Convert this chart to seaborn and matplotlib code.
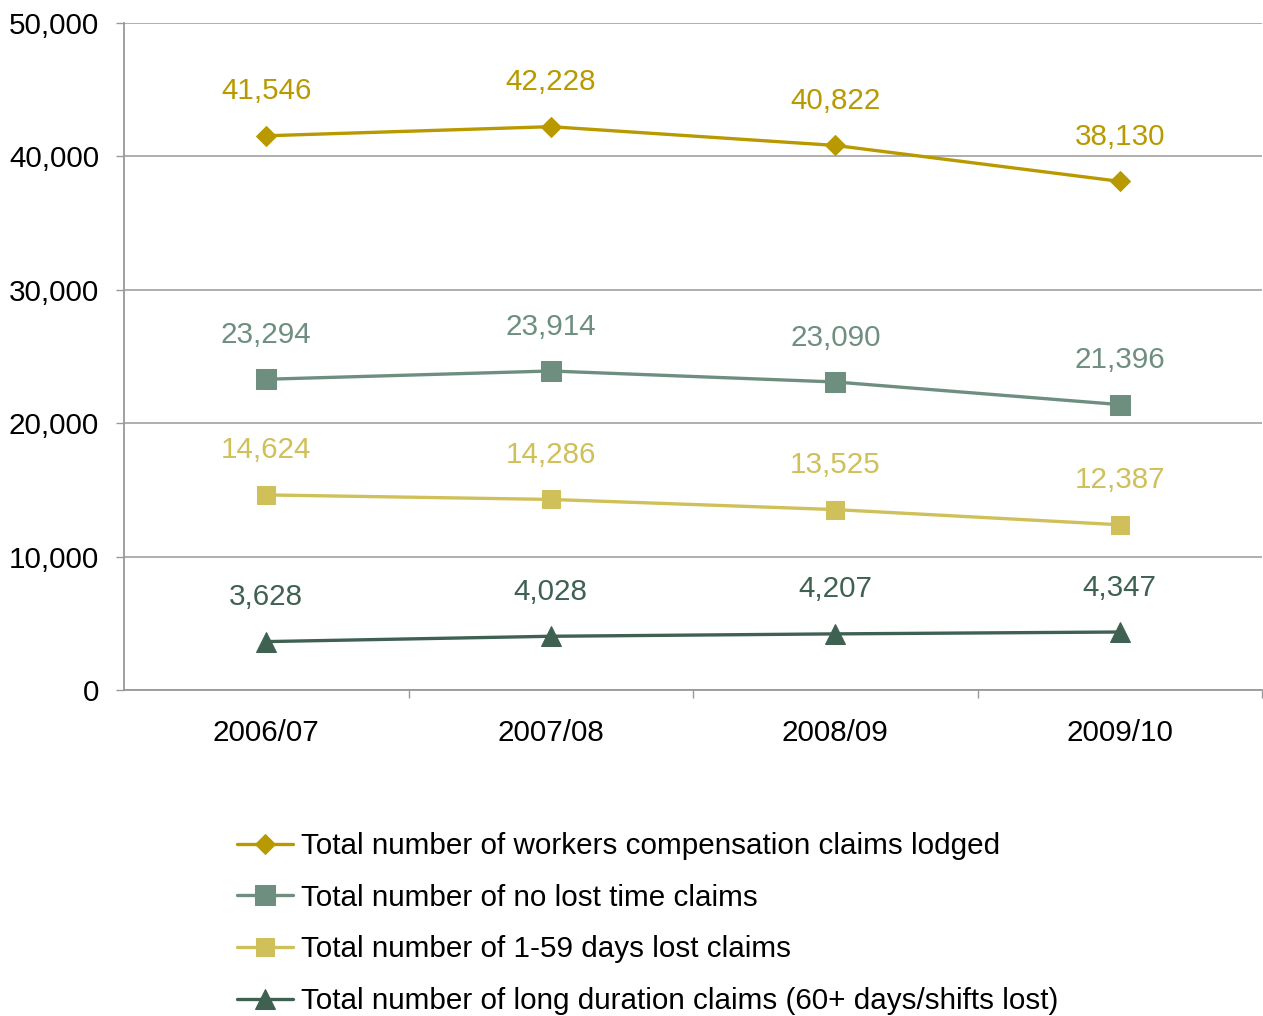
import matplotlib
matplotlib.use("Agg")
import matplotlib.pyplot as plt
import seaborn as sns
import pandas as pd
from matplotlib.ticker import FuncFormatter, FixedLocator

years = ["2006/07", "2007/08", "2008/09", "2009/10"]
series_names = [
    "Total number of workers compensation claims lodged",
    "Total number of no lost time claims",
    "Total number of 1-59 days lost claims",
    "Total number of long duration claims (60+ days/shifts lost)",
]
total_claims = [41546, 42228, 40822, 38130]
no_lost_time = [23294, 23914, 23090, 21396]
days_1_59 = [14624, 14286, 13525, 12387]
long_duration = [3628, 4028, 4207, 4347]

colors = ["#B89A00", "#6E8F80", "#CFC05A", "#3F6152"]
markers = ["D", "s", "s", "^"]
msizes = [10, 15, 13, 15]

rows = []
for name, vals in zip(series_names, [total_claims, no_lost_time, days_1_59, long_duration]):
    for i, (y, v) in enumerate(zip(years, vals)):
        rows.append({"Year": y, "idx": i, "Series": name, "Value": v})
df = pd.DataFrame(rows)

sns.set_theme(style="white")
plt.rcParams["font.family"] = ["Liberation Sans", "DejaVu Sans"]
plt.rcParams["text.color"] = "black"

FS = 21.3

fig = plt.figure(figsize=(12.63, 10.16), dpi=100)
ax = fig.add_axes([124/1263, 1-690/1016, (1262-124)/1263, (690-23)/1016])

for name, c, m, ms in zip(series_names, colors, markers, msizes):
    sub = df[df["Series"] == name]
    sns.lineplot(data=sub, x="idx", y="Value", ax=ax, color=c, marker=m,
                 markersize=ms, markeredgecolor=c, linewidth=2.4, label=name,
                 sort=False)
    for _, r in sub.iterrows():
        ax.annotate(f"{r['Value']:,}", (r["idx"], r["Value"]), xytext=(0, 32),
                    textcoords="offset points", ha="center", va="center",
                    color=c, fontsize=FS)

ax.set_xlim(-0.5, 3.5)
ax.set_ylim(0, 50000)
ax.set_yticks(range(0, 50001, 10000))
ax.yaxis.set_major_formatter(FuncFormatter(lambda v, p: f"{int(v):,}"))
ax.set_xticks(range(len(years)))
ax.set_xticklabels(years)
ax.xaxis.set_minor_locator(FixedLocator([0.5, 1.5, 2.5, 3.5]))
ax.tick_params(axis="x", which="major", length=0, pad=21, labelsize=FS, colors="black")
ax.tick_params(axis="x", which="minor", length=6, width=1, color="#999999", direction="out", bottom=True)
ax.tick_params(axis="y", which="major", length=6, width=1, color="#999999", direction="out", left=True,
               labelsize=FS, pad=12, labelcolor="black")
ax.set_xlabel("")
ax.set_ylabel("")
ax.grid(axis="y", color="#999999", linewidth=1.1)
ax.set_axisbelow(True)
for s in ["top", "right"]:
    ax.spines[s].set_visible(False)
for s in ["left", "bottom"]:
    ax.spines[s].set_color("#999999")
    ax.spines[s].set_linewidth(1.3)

ax.legend_.remove()
handles, labels = ax.get_legend_handles_labels()
leg = fig.legend(handles, labels, loc="upper left", bbox_to_anchor=(237/1263, 1-832/1016),
                 frameon=False, fontsize=FS, handlelength=1.9, handletextpad=0.25,
                 labelspacing=0.80, borderpad=0, borderaxespad=0, labelcolor="black")

fig.savefig("out.png", dpi=100)
